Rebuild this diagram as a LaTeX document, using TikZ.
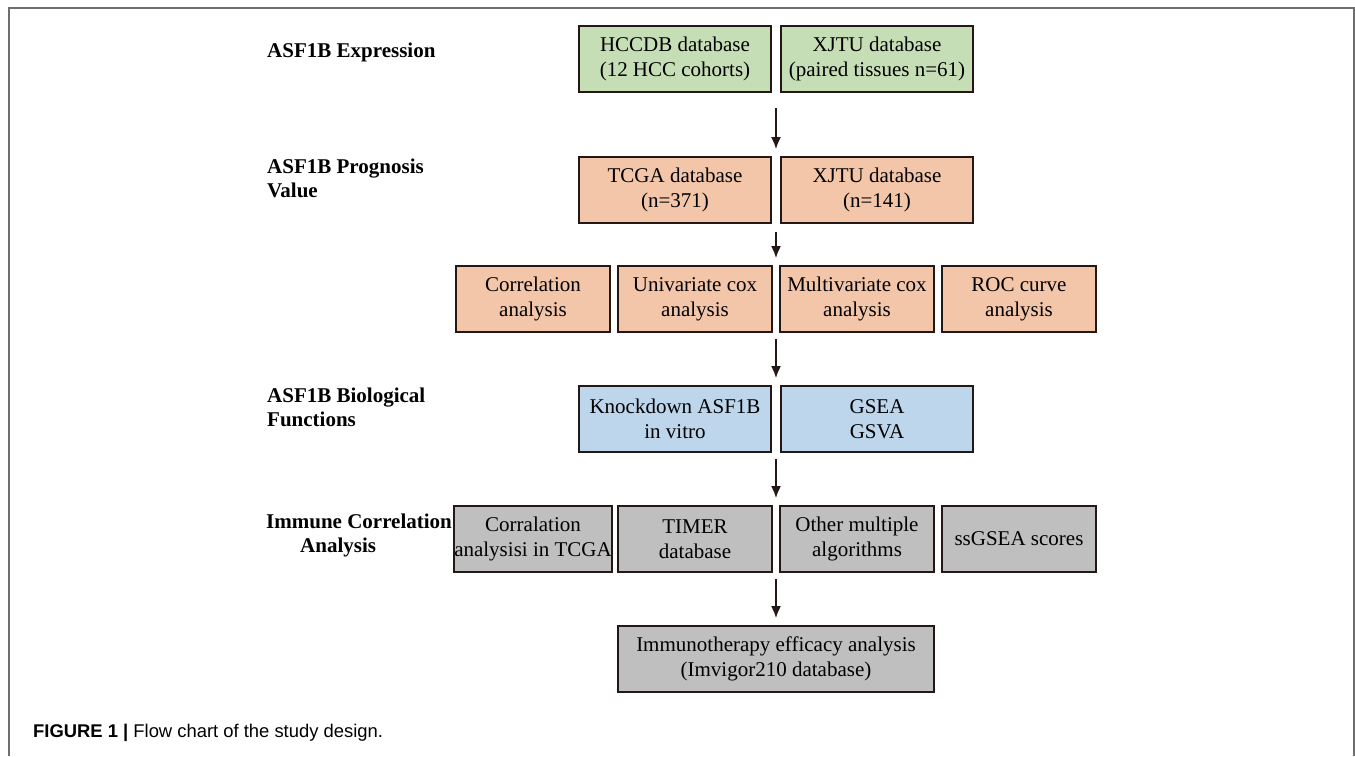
\documentclass[tikz,border=0pt]{standalone}
\usepackage{fontspec}
\setmainfont{Liberation Serif}
\newfontfamily\capfont{Liberation Sans}
\usetikzlibrary{arrows.meta,calc}
\definecolor{bdr}{HTML}{231815}
\definecolor{fgreen}{HTML}{C6DEB6}
\definecolor{fsalmon}{HTML}{F3C6A9}
\definecolor{fblue}{HTML}{BDD6EC}
\definecolor{fgray}{HTML}{BFBFBF}
\definecolor{frame}{HTML}{6E6E6E}
\tikzset{
  box/.style={draw=bdr, line width=1.8pt, align=center, inner sep=0pt,
    minimum height=66pt, font=\fontsize{21}{25}\selectfont},
  wide/.style={box, minimum width=192pt},
  narrow/.style={box, minimum width=154pt},
  lab/.style={anchor=west, align=left, inner sep=0pt,
    font=\fontsize{21}{24}\selectfont\bfseries},
  arr/.style={draw=bdr, line width=1.8pt, -{Latex[length=12pt,width=10pt]}}
}
\begin{document}
\begin{tikzpicture}[x=1pt,y=-1pt]
\useasboundingbox (0,0) rectangle (1355,756);
% frame
\draw[frame, line width=1.6pt] (9,756) -- (9,8) -- (1354,8) -- (1354,756);
% row 1
\node[wide, fill=fgreen] (hccdb) at (675,59) {HCCDB database\\(12 HCC cohorts)};
\node[wide, fill=fgreen] (xjtua) at (877,59) {XJTU database\\(paired tissues n=61)};
% row 2
\node[wide, fill=fsalmon] (tcga) at (675,190) {TCGA database\\(n=371)};
\node[wide, fill=fsalmon] (xjtub) at (877,190) {XJTU database\\(n=141)};
% row 3
\node[narrow, fill=fsalmon] (corr) at (533,299) {Correlation\\analysis};
\node[narrow, fill=fsalmon] (uni) at (695,299) {Univariate cox\\analysis};
\node[narrow, fill=fsalmon] (multi) at (857,299) {Multivariate cox\\analysis};
\node[narrow, fill=fsalmon] (roc) at (1019,299) {ROC curve\\analysis};
% row 4
\node[wide, fill=fblue] (kd) at (675,419) {Knockdown ASF1B\\in vitro};
\node[wide, fill=fblue] (gsea) at (877,419) {GSEA\\GSVA};
% row 5
\node[narrow, fill=fgray] (corrt) at (533,539) {Corralation\\analysisi in TCGA};
\node[narrow, fill=fgray] (timer) at (695,539) {TIMER\\database};
\node[narrow, fill=fgray] (other) at (857,539) {Other multiple\\algorithms};
\node[narrow, fill=fgray] (ssgsea) at (1019,539) {ssGSEA scores};
% row 6
\node[box, minimum width=316pt, fill=fgray] (immuno) at (776,659) {Immunotherapy efficacy analysis\\(Imvigor210 database)};
% labels
\node[lab] (l1) at (267,52) {ASF1B Expression};
\node[lab] (l2) at (267,178) {ASF1B Prognosis\\Value};
\node[lab] (l3) at (267,407) {ASF1B Biological\\Functions};
\node[lab] (l4) at (266,535) {Immune Correlation\\\hspace*{34pt}Analysis};
% gap coordinates
\coordinate (g1b) at ($(hccdb.south east)!.5!(xjtua.south west)$);
\coordinate (g2t) at ($(tcga.north east)!.5!(xjtub.north west)$);
\coordinate (g2b) at ($(tcga.south east)!.5!(xjtub.south west)$);
\coordinate (g3t) at ($(uni.north east)!.5!(multi.north west)$);
\coordinate (g3b) at ($(uni.south east)!.5!(multi.south west)$);
\coordinate (g4t) at ($(kd.north east)!.5!(gsea.north west)$);
\coordinate (g4b) at ($(kd.south east)!.5!(gsea.south west)$);
\coordinate (g5t) at ($(timer.north east)!.5!(other.north west)$);
\coordinate (g5b) at ($(timer.south east)!.5!(other.south west)$);
% arrows
\draw[arr] ([yshift=-15pt]g1b) -- ([yshift=7pt]g2t);
\draw[arr] ([yshift=-8pt]g2b) -- ([yshift=7pt]g3t);
\draw[arr] ([yshift=-6pt]g3b) -- ([yshift=7pt]g4t);
\draw[arr] ([yshift=-6pt]g4b) -- ([yshift=7pt]g5t);
\draw[arr] ([yshift=-6pt]g5b) -- ([yshift=7pt]immuno.north);
% caption
\node[anchor=west, inner sep=0pt, font=\capfont\fontsize{18.4}{20}\selectfont] (cap) at (33,733)
  {\textbf{FIGURE 1 |} Flow chart of the study design.};
\end{tikzpicture}
\end{document}
